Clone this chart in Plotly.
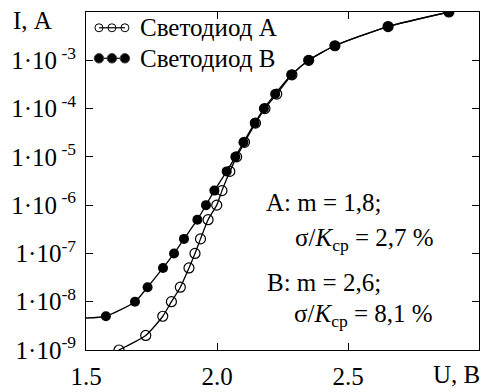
import plotly.graph_objects as go

# ---- data ----
currents_A = [1e-9, 2e-9, 5e-9, 1e-8, 2e-8, 5e-8, 1e-7, 2e-7, 5e-7, 1e-6, 2e-6,
              5e-6, 1e-5, 2e-5, 5e-5, 1e-4, 2e-4, 5e-4, 1e-3, 2e-3, 5e-3, 1e-2]
voltage_A = [1.626, 1.728, 1.793, 1.826, 1.860, 1.893, 1.916, 1.937, 1.966, 1.999, 2.019,
             2.049, 2.075, 2.105, 2.147, 2.183, 2.228, 2.286, 2.350, 2.450, 2.653, 2.885]

currents_B = [5e-9, 1e-8, 2e-8, 5e-8, 1e-7, 2e-7, 5e-7, 1e-6, 2e-6,
              5e-6, 1e-5, 2e-5, 5e-5, 1e-4, 2e-4, 5e-4, 1e-3, 2e-3, 5e-3, 1e-2]
voltage_B = [1.576, 1.687, 1.735, 1.794, 1.836, 1.874, 1.925, 1.958, 1.990,
             2.037, 2.070, 2.101, 2.144, 2.179, 2.222, 2.284, 2.350, 2.450, 2.653, 2.885]

# fitted-curve extensions beyond the measured points
curve_ext_A = ([1.56], [6.5e-10])
curve_ext_B = ([1.5], [4.6e-9])

y_tickvals = [1e-9, 1e-8, 1e-7, 1e-6, 1e-5, 1e-4, 1e-3, 1e-2]
y_ticktext = ["1·10<sup>-9</sup>", "1·10<sup>-8</sup>", "1·10<sup>-7</sup>",
              "1·10<sup> -6</sup>", "1·10<sup> -5</sup>", "1·10<sup> -4</sup>",
              "1·10<sup> -3</sup>", ""]
x_tickvals = [1.5, 2.0, 2.5, 3.0]
x_ticktext = ["1.5", "2.0", "2.5", ""]

legend_names = ["Светодиод А", "Светодиод В"]

FONT = "Liberation Serif"
FS = 25
W, H = 482, 392
L, R, T, B = 86, 2, 12, 37

fig = go.Figure()

# curves
fig.add_trace(go.Scatter(x=curve_ext_A[0] + voltage_A, y=curve_ext_A[1] + currents_A,
                         mode="lines", line=dict(color="black", width=1.3, shape="spline", smoothing=0.6),
                         showlegend=False, hoverinfo="skip"))
fig.add_trace(go.Scatter(x=voltage_A, y=currents_A, mode="markers",
                         marker=dict(symbol="circle-open", size=10, color="black", line=dict(width=1.2)),
                         showlegend=False))
fig.add_trace(go.Scatter(x=curve_ext_B[0] + voltage_B, y=curve_ext_B[1] + currents_B,
                         mode="lines", line=dict(color="black", width=1.3, shape="spline", smoothing=0.6),
                         showlegend=False, hoverinfo="skip"))
fig.add_trace(go.Scatter(x=voltage_B, y=currents_B, mode="markers",
                         marker=dict(symbol="circle", size=10, color="black"),
                         showlegend=False))

# custom legend samples (three markers on a line) on an auxiliary paper-like axis
def px_x(p):
    return (p - L) / (W - L - R)

def px_y(p):
    return (H - B - p) / (H - T - B)

leg_x = [px_x(99), px_x(112), px_x(125)]
for name, sym, ypx, size in [(legend_names[0], "circle-open", 28, 8),
                             (legend_names[1], "circle", 59, 9.5)]:
    fig.add_trace(go.Scatter(x=leg_x, y=[px_y(ypx)] * 3, xaxis="x2", yaxis="y2",
                             mode="lines+markers",
                             line=dict(color="black", width=1.2),
                             marker=dict(symbol=sym, size=size, color="black", line=dict(width=1)),
                             showlegend=False, hoverinfo="skip", cliponaxis=False))
    fig.add_annotation(x=px_x(138), y=px_y(ypx), xref="paper", yref="paper",
                       text=name, showarrow=False, xanchor="left", yanchor="middle",
                       font=dict(family=FONT, size=FS, color="black"))

ann = [
    ("A: m = 1,8;", 264, 205),
    ("σ/<i>K</i><sub>ср</sub> = 2,7 %", 294, 243),
    ("B: m = 2,6;", 265, 287),
    ("σ/<i>K</i><sub>ср</sub> = 8,1 %", 293, 320),
]
for txt, xp, yp in ann:
    fig.add_annotation(x=px_x(xp), y=px_y(yp), xref="paper", yref="paper", text=txt,
                       showarrow=False, xanchor="left", yanchor="middle",
                       font=dict(family=FONT, size=FS, color="black"))

fig.add_annotation(x=px_x(11), y=px_y(21), xref="paper", yref="paper", text="I, А",
                   showarrow=False, xanchor="left", yanchor="middle",
                   font=dict(family=FONT, size=FS, color="black"))
fig.add_annotation(x=px_x(457), y=px_y(380), xref="paper", yref="paper", text="U, В",
                   showarrow=False, xanchor="center", yanchor="middle",
                   font=dict(family=FONT, size=FS, color="black"))

axis_common = dict(showgrid=False, zeroline=False, showline=True, linecolor="black", linewidth=1,
                   mirror="ticks", ticks="inside", ticklen=7, tickwidth=1, tickcolor="black",
                   tickfont=dict(family=FONT, size=FS, color="black"))

fig.update_layout(
    width=W, height=H,
    margin=dict(l=L, r=R, t=T, b=B),
    paper_bgcolor="white", plot_bgcolor="white",
    showlegend=False,
    font=dict(family=FONT, size=FS, color="black"),
    xaxis=dict(range=[1.5, 3.0], tickmode="array", tickvals=x_tickvals, ticktext=x_ticktext,
               ticklabelstandoff=4, **axis_common),
    yaxis=dict(type="log", range=[-9, -2], tickmode="array", tickvals=y_tickvals,
               ticktext=y_ticktext, ticklabelstandoff=4, **axis_common),
    xaxis2=dict(range=[0, 1], overlaying="x", visible=False, fixedrange=True),
    yaxis2=dict(range=[0, 1], overlaying="y", visible=False, fixedrange=True),
)

fig.write_html("out.html")
